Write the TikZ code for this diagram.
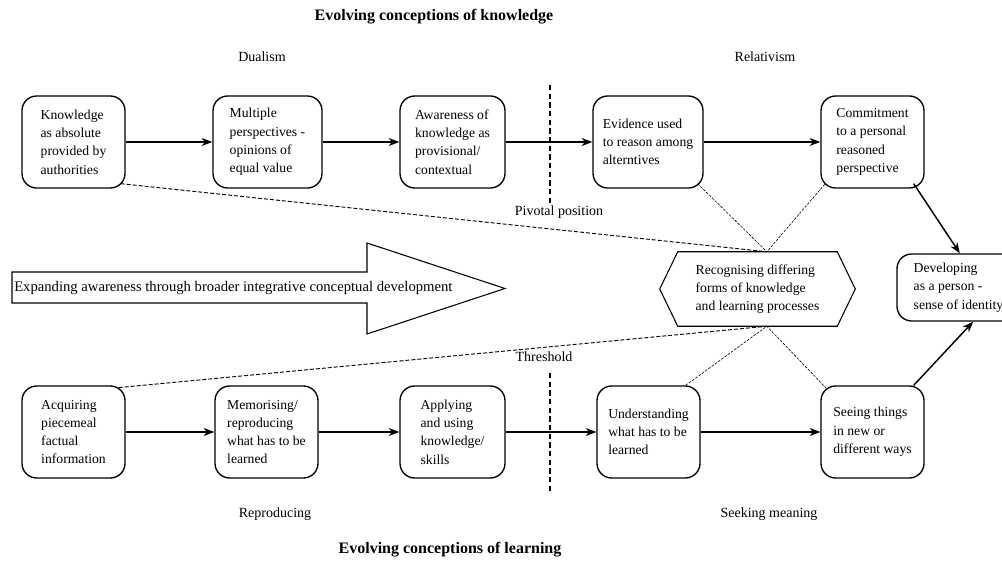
\documentclass[tikz,border=0pt]{standalone}
\usepackage{fontspec}
\setmainfont{Liberation Serif}
\usetikzlibrary{arrows.meta}

\newcommand{\stagefont}{\fontsize{10.25}{13.7}\selectfont}
\newcommand{\headfont}{\fontsize{12}{14}\selectfont\bfseries}

\tikzset{
  stage/.style={draw, rounded corners=11pt, line width=1pt, align=left,
    minimum height=69pt, inner sep=2pt, font=\stagefont},
  flow/.style={-{Stealth[length=8pt,width=6pt,inset=2.5pt]}, line width=1.1pt},
  tie/.style={dash pattern=on 3pt off 1.5pt, line width=0.7pt},
  faint/.style={dash pattern=on 2pt off 1pt, line width=0.45pt},
  divider/.style={dash pattern=on 4pt off 2.5pt, line width=1.1pt},
  heading/.style={font=\headfont, inner sep=0pt},
  phase/.style={font=\fontsize{10.5}{12}\selectfont, inner sep=0pt},
}

\begin{document}
\begin{tikzpicture}[x=0.75pt,y=-0.75pt]
    \useasboundingbox (0,0) rectangle (1002,580);

    % Headings
    \node[heading] (knowtitle) at (434,17) {Evolving conceptions of knowledge};
    \node[heading] (learntitle) at (450,550) {Evolving conceptions of learning};
    \node[phase] (dualism) at (262,57) {Dualism};
    \node[phase] (relativism) at (765,57) {Relativism};
    \node[phase] (reproducing) at (275,514) {Reproducing};
    \node[phase] (seeking) at (769,514) {Seeking meaning};
    \node[phase] (pivotal) at (559,212) {Pivotal position};
    \node[phase] (threshold) at (544,357) {Threshold};

    % Pivotal position / threshold divider
    \draw[divider] (550,85) -- (550,205);
    \draw[divider] (550,373) -- (550,493);

    % Conceptions of knowledge
    \node[stage, minimum width=77.25pt] (k1) at (73.5,142) {Knowledge\\as absolute\\provided by\\authorities};
    \node[stage, minimum width=81.75pt] (k2) at (267.5,142) {Multiple\\perspectives -\\opinions of\\equal value};
    \node[stage, minimum width=78.75pt] (k3) at (452.5,142) {Awareness of\\knowledge as\\provisional/\\contextual};
    \node[stage, minimum width=82.5pt] (k4) at (648,142) {Evidence used\\to reason among\\alterntives};
    \node[stage, minimum width=77.25pt] (k5) at (872.5,142) {Commitment\\to a personal\\reasoned\\perspective};

    % Conceptions of learning
    \node[stage, minimum width=77.25pt] (l1) at (73.5,432) {Acquiring\\piecemeal\\factual\\information};
    \node[stage, minimum width=77.25pt] (l2) at (266.5,432) {Memorising/\\reproducing\\what has to be\\learned};
    \node[stage, minimum width=78.75pt] (l3) at (452.5,432) {Applying\\and using\\knowledge/\\skills};
    \node[stage, minimum width=77.25pt] (l4) at (648.5,432) {Understanding\\what has to be\\learned};
    \node[stage, minimum width=77.25pt] (l5) at (872.5,432) {Seeing things\\in new or\\different ways};

    % Identity
    \node[stage, minimum width=92.25pt, minimum height=50.25pt] (dev) at (958.5,287.5) {Developing\\as a person -\\sense of identity};

    % Recognising (hexagon)
    \node[font=\stagefont, align=left, minimum width=146.25pt, minimum height=55.5pt, inner sep=0pt] (hexa) at (757.5,289)
        {Recognising differing\\forms of knowledge\\and learning processes};
    \draw[line width=0.8pt] (hexa.west) -- ([xshift=13.5pt]hexa.north west) -- ([xshift=-13.5pt]hexa.north east)
        -- (hexa.east) -- ([xshift=-13.5pt]hexa.south east) -- ([xshift=13.5pt]hexa.south west) -- cycle;
    \coordinate (hextop) at ([xshift=7pt]hexa.north);
    \coordinate (hexbot) at ([xshift=7pt]hexa.south);

    % Big arrow
    \draw[line width=0.8pt] (12,272) -- (367,272) -- (367,243) -- (505,288.5) -- (367,334) -- (367,303) -- (12,303) -- cycle;
    \node[anchor=west, font=\fontsize{11}{13}\selectfont, inner sep=0pt] (expand) at (14,288)
        {Expanding awareness through broader integrative conceptual development};

    % Arrows
    \draw[flow] (k1) -- (k2);
    \draw[flow] (k2) -- (k3);
    \draw[flow] (k3) -- (k4);
    \draw[flow] (k4) -- (k5);
    \draw[flow] (l1) -- (l2);
    \draw[flow] (l2) -- (l3);
    \draw[flow] (l3) -- (l4);
    \draw[flow] (l4) -- (l5);
    \draw[flow] ([xshift=-8.25pt,yshift=3.75pt]k5.south east) -- ([xshift=1pt]dev.north);
    \draw[flow] ([xshift=-8.25pt]l5.north east) -- ([xshift=11pt]dev.south);

    % Links to the hexagon
    \draw[tie] ([xshift=-3.75pt,yshift=3.75pt]k1.south east) -- (hextop);
    \draw[tie] ([xshift=-5.25pt,yshift=-1.7pt]l1.north east) -- (hexbot);
    \draw[faint] ([xshift=-4.5pt,yshift=3.75pt]k4.south east) -- (hextop);
    \draw[faint] ([xshift=3.3pt,yshift=3.3pt]k5.south west) -- (hextop);
    \draw[faint] ([xshift=-11.25pt]l4.north east) -- (hexbot);
    \draw[faint] ([xshift=4.5pt,yshift=-2.25pt]l5.north west) -- (hexbot);
\end{tikzpicture}
\end{document}
